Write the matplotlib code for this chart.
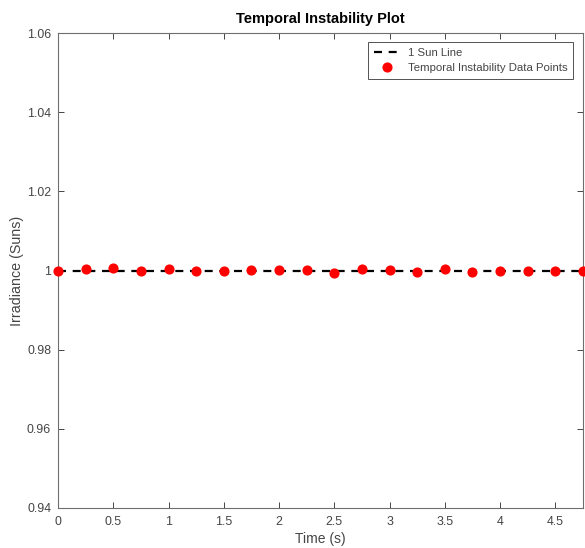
import matplotlib
matplotlib.use("Agg")
import matplotlib.pyplot as plt
import numpy as np

time_s = [0, 0.25, 0.5, 0.75, 1.0, 1.25, 1.5, 1.75, 2.0, 2.25,
          2.5, 2.75, 3.0, 3.25, 3.5, 3.75, 4.0, 4.25, 4.5, 4.75]
irradiance = [1.0000, 1.0003, 1.0007, 0.9999, 1.0003, 0.9999, 0.9999, 1.0001, 1.0002, 1.0001,
              0.9993, 1.0004, 1.0001, 0.9996, 1.0004, 0.9997, 1.0000, 0.9998, 0.9998, 1.0000]
sun_line_x = [0, 4.75]
sun_line_y = [1, 1]
x_ticks = [0, 0.5, 1, 1.5, 2, 2.5, 3, 3.5, 4, 4.5]
y_ticks = [0.94, 0.96, 0.98, 1.0, 1.02, 1.04, 1.06]
y_tick_labels = ["0.94", "0.96", "0.98", "1", "1.02", "1.04", "1.06"]

plt.rcParams['font.family'] = ['Liberation Sans', 'DejaVu Sans']
ax_color = '#454545'

fig = plt.figure(figsize=(5.85, 5.48), dpi=100)
ax = fig.add_axes([58/585, 40/548, 525/585, 475/548])

ax.plot(sun_line_x, sun_line_y, color='black', lw=1.6, dashes=(3.6, 3.0), label='1 Sun Line', zorder=2)
ax.plot(time_s, irradiance, 'o', color='#ff0000', ms=6.3, mec='#ff0000',
        label='Temporal Instability Data Points', zorder=3, clip_on=False)

ax.set_xlim(0, 4.75)
ax.set_ylim(0.94, 1.06)
ax.set_xticks(x_ticks)
ax.set_xticklabels([f"{t:g}" for t in x_ticks])
ax.set_yticks(y_ticks)
ax.set_yticklabels(y_tick_labels)

ax.tick_params(direction='in', length=4, width=0.7, colors=ax_color, labelsize=8.9,
               top=True, right=True)
ax.tick_params(axis='x', pad=6)
ax.tick_params(axis='y', pad=5)
for s in ax.spines.values():
    s.set_color('#6e6e6e')
    s.set_linewidth(0.8)

ax.set_xlabel('Time (s)', fontsize=10, color=ax_color, labelpad=3)
ax.set_ylabel('Irradiance (Suns)', fontsize=10.3, color=ax_color, labelpad=2)
ax.set_title('Temporal Instability Plot', fontsize=10.5, fontweight='bold', color='black', pad=7)

leg = ax.legend(loc='upper right', bbox_to_anchor=(0.981, 0.981), borderaxespad=0,
                fontsize=8.2, frameon=True, fancybox=False, edgecolor='#262626',
                handlelength=2.3, borderpad=0.5, labelspacing=0.5, handletextpad=0.7)
leg.get_frame().set_linewidth(0.7)
for t in leg.get_texts():
    t.set_color(ax_color)

fig.savefig('out.png', dpi=100)
